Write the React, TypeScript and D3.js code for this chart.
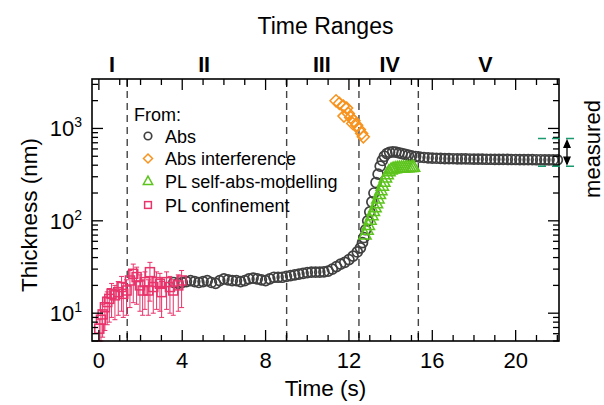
import React from 'react';
import * as d3 from 'd3';

const W = 604, H = 405;
const M = { left: 92, right: 559, top: 79, bottom: 341 };
const FONT = "'Liberation Sans', Arial, sans-serif";

// Abs (circles)
const absT = [3.6,3.8,4.0,4.2,4.4,4.6,4.8,5.0,5.2,5.4,5.6,5.8,6.0,6.2,6.4,6.6,6.8,7.0,7.2,7.4,7.6,7.8,8.0,8.2,8.4,8.6,8.8,9.0,9.2,9.4,9.6,9.8,10.0,10.2,10.4,10.6,10.8,11.0,11.2,11.4,11.6,11.8,12.0,12.2,12.4,12.55,12.65,12.72,12.8,12.9,13.0,13.1,13.2,13.3,13.4,13.5,13.6,13.7,13.82,13.95,14.1,14.25,14.4,14.55,14.7,14.85,15.0,15.2,15.4,15.6,15.8,16.0,16.2,16.4,16.6,16.8,17.0,17.2,17.4,17.6,17.8,18.0,18.2,18.4,18.6,18.8,19.0,19.2,19.4,19.6,19.8,20.0,20.2,20.4,20.6,20.8,21.0,21.2,21.4,21.6,21.8,22.0];
const absV = [21.5,21,21.5,22,22.5,22,21.5,22,22.5,21.5,21,22.5,23.5,23,22.5,22.5,22,22.5,23.5,24,23.5,23,22.5,23.5,24.5,24.5,24.5,25,25.5,26,26.5,27,27.5,27.8,27.8,27.8,28,28.5,30,32,34,35.5,38,41.5,46,51,58,66,80,100,125,160,200,260,320,390,450,500,535,552,558,555,545,535,525,515,505,497,490,485,481,478,476,474,472,471,470,469,468,468,467,466,466,465,464,464,463,463,462,462,461,461,460,460,459,459,458,458,457,457,456,456];

// Abs interference (diamonds)
const intT = [11.38,11.54,11.73,11.89,11.97,11.76,12.08,12.24,12.18,12.37,12.5,12.61,12.69];
const intV = [1990,1867,1745,1660,1455,1360,1314,1208,1133,1086,976,883,811];

// PL self-abs-modelling (triangles)
const selfT = [12.77,12.87,12.93,13.01,13.1,13.17,13.25,13.32,13.39,13.46,13.53,13.6,13.67,13.75,13.83,13.92,14.02,14.12,14.22,14.32,14.42,14.52,14.62,14.72,14.82,14.92,15.02,15.1];
const selfV = [71,80,90,103,115,128,140,155,175,195,215,240,265,295,320,345,360,368,372,375,377,378,379,380,381,382,383,385];

// PL confinement (squares with error bars)
const plT = [0.02,0.1,0.18,0.29,0.4,0.5,0.61,0.77,0.93,1.09,1.17,1.33,1.49,1.65,1.81,1.97,2.1,2.21,2.37,2.45,2.61,2.77,2.93,3.01,3.25,3.41,3.57,3.81,3.97];
const plV = [6.8,8.5,9.7,11.6,13.2,14.3,16.2,15.6,16.9,19.2,16.2,17.6,22.6,26.7,24.6,20.0,17.6,21.7,17.6,27.8,19.2,21.7,20.8,16.9,21.7,19.2,17.6,20.0,22.6];
const plHi = [8.5,10.8,12.5,15.0,17.0,18.5,21.0,20.0,22.0,25.0,21.0,23.0,29.0,34.0,31.5,26.0,23.0,28.0,23.0,35.5,25.0,28.0,27.0,22.0,28.0,25.0,23.0,26.0,29.0];
const plLo = [5.0,5.0,5.5,6.5,7.5,8.0,9.0,8.5,9.5,10.5,9.0,9.5,11.5,13.0,12.5,10.5,9.5,11.0,9.5,13.5,10.0,11.0,10.5,9.0,11.0,10.0,9.5,10.5,11.5];

// axes
const xMajor = [0, 4, 8, 12, 16, 20];
const xMinor = [1,2,3,5,6,7,9,10,11,13,14,15,17,18,19,21,22];
const yMajor = [10, 100, 1000];
const yMajorExp = ['1', '2', '3'];
const yMinor = [5,6,7,8,9,20,30,40,50,60,70,80,90,200,300,400,500,600,700,800,900,2000,3000];

// time ranges
const boundaries = [1.36, 9.01, 12.48, 15.33];
const rangeNames = ['I', 'II', 'III', 'IV', 'V'];
const rangePos = [0.63, 5.05, 10.7, 13.96, 18.55];

// measured
const measuredHi = 780;
const measuredLo = 390;

const legendNames = ['Abs', 'Abs interference', 'PL self-abs-modelling', 'PL confinement'];

const C_ABS = '#404040';
const C_INT = '#f7931e';
const C_SELF = '#5cc41c';
const C_PL = '#e8336b';

function Marker({ kind, s = 1 }: { kind: string; s?: number }) {
  if (kind === 'circle') return <circle r={5 * s} fill="none" stroke={C_ABS} strokeWidth={1.7} />;
  if (kind === 'diamond') {
    const d = 6 * s;
    return <path d={`M0,${-d}L${d},0L0,${d}L${-d},0Z`} fill="none" stroke={C_INT} strokeWidth={1.5} />;
  }
  if (kind === 'triangle') {
    const d = 6.5 * s;
    return <path d={`M0,${-d}L${d * 0.95},${d * 0.7}L${-d * 0.95},${d * 0.7}Z`} fill="none" stroke={C_SELF} strokeWidth={1.5} />;
  }
  const h = 4.5 * s;
  return <rect x={-h} y={-h} width={2 * h} height={2 * h} fill="none" stroke={C_PL} strokeWidth={1.5} />;
}

export default function App() {
  const x = d3.scaleLinear().domain([-0.33, 22.08]).range([M.left, M.right]);
  const y = d3.scaleLog().domain([5, 3430]).range([M.bottom, M.top]);
  const midX = (M.left + M.right) / 2;
  const kinds = ['circle', 'diamond', 'triangle', 'square'];
  const legRows = [136, 158.5, 181, 205];

  return (
    <svg width={W} height={H} style={{ position: 'absolute', left: 0, top: 0, background: '#fff' }} fontFamily={FONT}>
      <rect width={W} height={H} fill="#fff" />
      {/* boundaries */}
      {boundaries.map((b, i) => (
        <line key={'b' + i} x1={x(b)} x2={x(b)} y1={M.top} y2={M.bottom} stroke="#444" strokeWidth={1.4} strokeDasharray="7,5" />
      ))}
      {/* data */}
      {absT.map((t, i) => (
        <g key={'a' + i} transform={`translate(${x(t)},${y(absV[i])})`}><Marker kind="circle" /></g>
      ))}
      {intT.map((t, i) => (
        <g key={'d' + i} transform={`translate(${x(t)},${y(intV[i])})`}><Marker kind="diamond" /></g>
      ))}
      {selfT.map((t, i) => (
        <g key={'t' + i} transform={`translate(${x(t)},${y(selfV[i])})`}><Marker kind="triangle" /></g>
      ))}
      {plT.map((t, i) => (
        <g key={'e' + i} stroke={C_PL} strokeWidth={1}>
          <line x1={x(t)} x2={x(t)} y1={y(plLo[i])} y2={y(plHi[i])} />
          <line x1={x(t) - 2.5} x2={x(t) + 2.5} y1={y(plHi[i])} y2={y(plHi[i])} />
          <line x1={x(t) - 2.5} x2={x(t) + 2.5} y1={y(plLo[i])} y2={y(plLo[i])} />
        </g>
      ))}
      {plT.map((t, i) => (
        <g key={'s' + i} transform={`translate(${x(t)},${y(plV[i])})`}><Marker kind="square" /></g>
      ))}
      {/* frame */}
      <rect x={M.left} y={M.top} width={M.right - M.left} height={M.bottom - M.top} fill="none" stroke="#000" strokeWidth={1.6} />
      {/* x ticks */}
      {xMajor.map((v) => (
        <g key={'xm' + v} stroke="#000" strokeWidth={1.3}>
          <line x1={x(v)} x2={x(v)} y1={M.bottom} y2={M.bottom - 11} />
          <line x1={x(v)} x2={x(v)} y1={M.top} y2={M.top + 11} />
        </g>
      ))}
      {xMinor.map((v) => (
        <g key={'xn' + v} stroke="#000" strokeWidth={1.3}>
          <line x1={x(v)} x2={x(v)} y1={M.bottom} y2={M.bottom - 6} />
          <line x1={x(v)} x2={x(v)} y1={M.top} y2={M.top + 6} />
        </g>
      ))}
      {boundaries.map((b, i) => (
        <g key={'xb' + i} stroke="#000" strokeWidth={1.3}>
          <line x1={x(b)} x2={x(b)} y1={M.bottom} y2={M.bottom - 8} />
          <line x1={x(b)} x2={x(b)} y1={M.top} y2={M.top + 8} />
        </g>
      ))}
      {xMajor.map((v) => (
        <text key={'xl' + v} x={x(v)} y={368} textAnchor="middle" fontSize={22}>{v}</text>
      ))}
      <text x={midX} y={396} textAnchor="middle" fontSize={22.5}>Time (s)</text>
      {/* y ticks */}
      {yMajor.map((v) => (
        <g key={'ym' + v} stroke="#000" strokeWidth={1.3}>
          <line x1={M.left} x2={M.left + 11} y1={y(v)} y2={y(v)} />
          <line x1={M.right} x2={M.right - 11} y1={y(v)} y2={y(v)} />
        </g>
      ))}
      {yMinor.map((v) => (
        <g key={'yn' + v} stroke="#000" strokeWidth={1.3}>
          <line x1={M.left} x2={M.left + 6} y1={y(v)} y2={y(v)} />
          <line x1={M.right} x2={M.right - 6} y1={y(v)} y2={y(v)} />
        </g>
      ))}
      {yMajor.map((v, i) => (
        <text key={'yl' + v} x={82} y={y(v) + 8} textAnchor="end" fontSize={22}>
          <tspan>10</tspan><tspan dy={-9} fontSize={14}>{yMajorExp[i]}</tspan>
        </text>
      ))}
      <text transform={`translate(37,${(M.top + M.bottom) / 2 + 5}) rotate(-90)`} textAnchor="middle" fontSize={22.5}>Thickness (nm)</text>
      {/* top */}
      <text x={midX} y={33.5} textAnchor="middle" fontSize={23}>Time Ranges</text>
      {rangeNames.map((n, i) => (
        <text key={'r' + i} x={x(rangePos[i])} y={71.5} textAnchor="middle" fontSize={21.5} fontWeight="bold">{n}</text>
      ))}
      {/* measured */}
      {[measuredHi, measuredLo].map((v, i) => (
        <line key={'ms' + i} x1={M.right - 21} x2={M.right + 21} y1={y(v)} y2={y(v)} stroke="#1a9a6e" strokeWidth={1.5} strokeDasharray="8,6" />
      ))}
      <g stroke="#000" strokeWidth={1.3} fill="#000">
        <line x1={M.right + 8} x2={M.right + 8} y1={y(measuredHi) + 3} y2={y(measuredLo) - 3} />
        <path d={`M${M.right + 8},${y(measuredHi) + 2}l-3,7h6z`} />
        <path d={`M${M.right + 8},${y(measuredLo) - 2}l-3,-7h6z`} />
      </g>
      <text transform={`translate(600,149) rotate(-90)`} textAnchor="middle" fontSize={22}>measured</text>
      {/* legend */}
      <text x={134} y={121} fontSize={18}>From:</text>
      {legendNames.map((n, i) => (
        <g key={'lg' + i}>
          <g transform={`translate(148,${legRows[i]})`}><Marker kind={kinds[i]} s={0.75} /></g>
          <text x={165} y={legRows[i] + 6.5} fontSize={18}>{n}</text>
        </g>
      ))}
    </svg>
  );
}
